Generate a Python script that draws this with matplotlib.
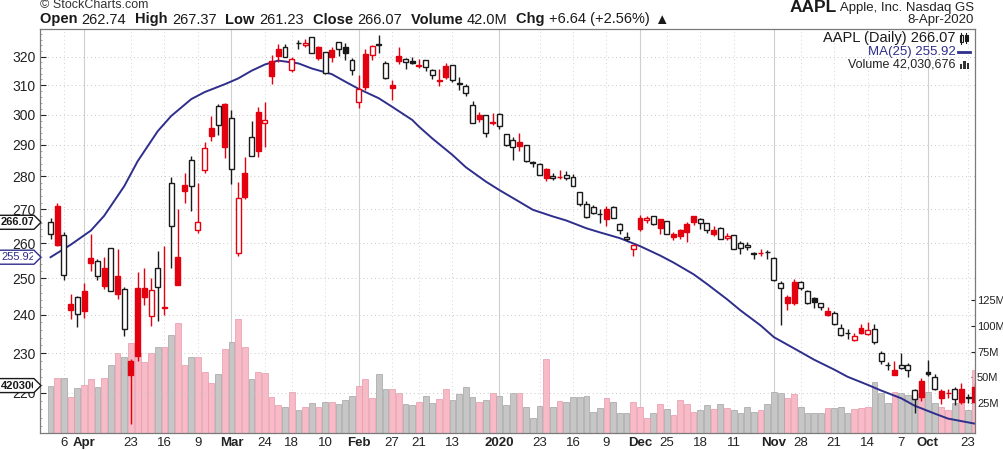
import numpy as np
import matplotlib
matplotlib.use("Agg")
import matplotlib.pyplot as plt
from matplotlib.patches import Polygon, Rectangle
from matplotlib.lines import Line2D
import matplotlib.ticker as mticker

FONT = ['Liberation Sans', 'DejaVu Sans']
plt.rcParams['font.family'] = FONT

W, H = 1004, 450

# ---------------- data (index 0 = 20-Sep-2019 ... 138 = 8-Apr-2020) ----------------
dates = ["2019-09-20", "2019-09-23", "2019-09-24", "2019-09-25", "2019-09-26", "2019-09-27", "2019-09-30",
         "2019-10-01", "2019-10-02", "2019-10-03", "2019-10-04", "2019-10-07", "2019-10-08", "2019-10-09",
         "2019-10-10", "2019-10-11", "2019-10-14", "2019-10-15", "2019-10-16", "2019-10-17", "2019-10-18",
         "2019-10-21", "2019-10-22", "2019-10-23", "2019-10-24", "2019-10-25", "2019-10-28", "2019-10-29",
         "2019-10-30", "2019-10-31", "2019-11-01", "2019-11-04", "2019-11-05", "2019-11-06", "2019-11-07",
         "2019-11-08", "2019-11-11", "2019-11-12", "2019-11-13", "2019-11-14", "2019-11-15", "2019-11-18",
         "2019-11-19", "2019-11-20", "2019-11-21", "2019-11-22", "2019-11-25", "2019-11-26", "2019-11-27",
         "2019-11-29", "2019-12-02", "2019-12-03", "2019-12-04", "2019-12-05", "2019-12-06", "2019-12-09",
         "2019-12-10", "2019-12-11", "2019-12-12", "2019-12-13", "2019-12-16", "2019-12-17", "2019-12-18",
         "2019-12-19", "2019-12-20", "2019-12-23", "2019-12-24", "2019-12-26", "2019-12-27", "2019-12-30",
         "2019-12-31", "2020-01-02", "2020-01-03", "2020-01-06", "2020-01-07", "2020-01-08", "2020-01-09",
         "2020-01-10", "2020-01-13", "2020-01-14", "2020-01-15", "2020-01-16", "2020-01-17", "2020-01-21",
         "2020-01-22", "2020-01-23", "2020-01-24", "2020-01-27", "2020-01-28", "2020-01-29", "2020-01-30",
         "2020-01-31", "2020-02-03", "2020-02-04", "2020-02-05", "2020-02-06", "2020-02-07", "2020-02-10",
         "2020-02-11", "2020-02-12", "2020-02-13", "2020-02-14", "2020-02-18", "2020-02-19", "2020-02-20",
         "2020-02-21", "2020-02-24", "2020-02-25", "2020-02-26", "2020-02-27", "2020-02-28", "2020-03-02",
         "2020-03-03", "2020-03-04", "2020-03-05", "2020-03-06", "2020-03-09", "2020-03-10", "2020-03-11",
         "2020-03-12", "2020-03-13", "2020-03-16", "2020-03-17", "2020-03-18", "2020-03-19", "2020-03-20",
         "2020-03-23", "2020-03-24", "2020-03-25", "2020-03-26", "2020-03-27", "2020-03-30", "2020-03-31",
         "2020-04-01", "2020-04-02", "2020-04-03", "2020-04-06", "2020-04-07", "2020-04-08"]

opens = [221.38, 218.95, 221.03, 218.55, 220.00, 220.54, 220.90,
         225.07, 223.06, 218.43, 225.64, 226.27, 225.82, 227.03, 227.93, 232.95, 234.90, 236.39, 233.37,
         235.09, 234.59, 237.52, 241.16, 242.10, 244.51, 243.16, 247.42, 248.97, 244.76, 247.24,
         249.54, 257.33, 257.05, 256.77, 258.74, 258.69, 258.30, 261.55, 261.13, 263.75, 263.68, 265.80,
         267.90, 265.54, 263.69, 262.59, 262.71, 266.94, 265.58, 266.60,
         267.27, 258.31, 261.07, 263.79, 267.48, 270.00, 268.60, 268.81, 267.78, 271.46, 277.00, 279.57,
         279.80, 279.50, 282.23, 280.53, 284.69, 284.82, 291.12, 289.46, 289.93,
         296.24, 297.15, 293.79, 299.84, 297.16, 307.24, 310.60, 311.64, 316.70, 311.85, 313.59, 316.27,
         317.19, 318.58, 317.92, 320.25, 310.06, 312.48, 324.45, 320.54, 320.93,
         304.30, 315.31, 323.52, 322.57, 322.37, 314.18, 323.60, 321.47, 324.19, 324.74, 315.36, 320.00,
         322.63, 318.62, 297.26, 300.95, 286.53, 281.10, 257.26,
         282.28, 303.67, 296.44, 295.52, 282.00, 263.75, 277.14, 277.39, 255.94, 264.89, 241.95, 247.51,
         239.77, 247.39, 247.18, 228.08, 236.36, 250.75, 246.52, 252.75, 250.74, 255.60,
         246.50, 240.34, 242.80, 250.90, 270.80, 262.74]

highs = [222.56, 219.84, 222.49, 221.50, 220.94, 220.96, 224.58,
         228.22, 223.58, 220.96, 227.49, 229.93, 228.06, 227.79, 230.44, 237.64, 238.13, 237.65, 235.24,
         236.15, 237.58, 240.99, 242.20, 243.24, 244.80, 246.73, 249.25, 249.75, 245.30, 249.17,
         255.93, 257.85, 258.19, 257.49, 260.35, 260.44, 262.47, 262.79, 264.78, 264.88, 265.78, 267.43,
         268.00, 266.08, 264.01, 263.18, 266.44, 267.16, 267.98, 268.00,
         268.25, 259.53, 263.31, 265.89, 271.00, 270.80, 270.07, 271.10, 272.56, 275.30, 280.79, 281.77,
         281.90, 281.18, 282.65, 284.25, 284.89, 289.98, 293.97, 292.69, 293.68,
         300.60, 300.58, 299.96, 300.90, 304.44, 310.43, 312.67, 317.07, 317.57, 315.50, 315.70, 318.74,
         319.02, 319.99, 319.56, 323.33, 311.77, 318.40, 327.85, 324.09, 322.68,
         313.49, 319.64, 324.76, 325.22, 323.40, 321.55, 323.90, 327.22, 326.22, 325.98, 319.75, 324.57,
         324.65, 320.45, 304.18, 302.53, 297.88, 286.00, 278.41,
         301.44, 304.00, 303.40, 299.55, 290.82, 278.09, 286.44, 281.22, 270.00, 279.92, 259.08, 257.61,
         250.00, 252.84, 251.83, 228.50, 247.69, 258.25, 258.68, 255.87, 255.52, 262.49,
         248.72, 245.15, 245.70, 263.11, 271.70, 267.37]

lows = [217.47, 217.65, 217.19, 217.14, 218.83, 217.28, 220.79,
        224.20, 217.93, 215.13, 223.89, 225.84, 224.33, 225.64, 227.30, 232.31, 234.67, 234.88, 233.20,
        233.52, 234.29, 237.32, 239.62, 241.22, 241.81, 242.88, 246.72, 242.57, 241.21, 237.26,
        249.16, 255.38, 256.32, 255.37, 258.11, 256.85, 258.28, 260.92, 261.07, 262.10, 263.01, 264.23,
        265.39, 260.40, 261.18, 260.84, 262.52, 262.50, 265.31, 265.90,
        263.45, 256.29, 260.68, 262.73, 267.30, 264.91, 265.86, 268.50, 267.32, 270.93, 276.98, 278.80,
        279.12, 278.95, 278.56, 280.37, 282.92, 284.70, 288.12, 285.22, 289.52,
        295.19, 296.50, 292.75, 297.48, 297.16, 306.20, 308.25, 311.15, 312.17, 309.55, 312.09, 315.00,
        316.00, 317.31, 315.65, 317.52, 304.88, 312.19, 321.38, 318.75, 308.29,
        302.22, 313.63, 318.95, 320.26, 318.00, 313.85, 318.71, 321.47, 323.35, 322.85, 314.61, 320.00,
        318.21, 310.50, 289.23, 286.13, 286.50, 272.96, 256.37,
        277.72, 285.80, 293.13, 291.41, 281.23, 263.00, 269.37, 271.86, 248.00, 252.95, 240.00, 238.40,
        237.12, 242.61, 228.00, 212.61, 234.30, 244.30, 246.36, 247.05, 249.40, 252.00,
        239.13, 236.90, 238.97, 249.38, 259.00, 261.23]

closes = [217.73, 218.72, 217.68, 221.03, 219.89, 218.82, 223.97,
          224.59, 218.96, 220.82, 227.01, 227.06, 224.40, 227.03, 230.09, 236.21, 235.87, 235.32, 234.37,
          235.28, 236.41, 240.51, 239.96, 243.18, 243.58, 246.58, 249.05, 243.29, 243.26, 248.76,
          255.82, 257.50, 257.13, 257.24, 259.43, 260.14, 262.20, 261.96, 264.47, 262.64, 265.76, 267.10,
          266.29, 263.19, 262.01, 261.78, 266.37, 264.29, 267.84, 267.25,
          264.16, 259.45, 261.74, 265.58, 270.71, 266.92, 268.48, 270.77, 271.46, 275.15, 279.86, 280.41,
          279.74, 280.02, 279.44, 284.00, 284.27, 289.91, 289.80, 291.52, 293.65,
          300.35, 297.43, 299.80, 298.39, 303.19, 309.63, 310.33, 316.96, 312.68, 311.34, 315.24, 318.73,
          316.57, 317.70, 319.23, 318.31, 308.95, 317.69, 324.34, 323.87, 309.51,
          308.66, 318.85, 321.45, 325.21, 320.03, 321.55, 319.61, 327.20, 324.87, 324.95, 319.00, 323.62,
          320.30, 313.05, 298.18, 288.08, 292.65, 273.52, 273.36,
          298.81, 289.32, 302.74, 292.92, 289.03, 266.17, 285.34, 275.43, 248.23, 277.97, 242.21, 252.86,
          246.67, 244.78, 229.24, 224.37, 246.88, 245.52, 258.44, 247.74, 254.81, 254.29,
          240.91, 244.93, 241.41, 262.47, 259.43, 266.07]

volumes_m = [57.2, 18.2, 28.0, 24.7, 18.2, 21.5, 24.7,
             36.1, 34.5, 28.0, 32.8, 34.5, 36.1, 24.7, 34.5, 45.8, 21.5, 19.9, 18.9, 15.6, 21.5,
             19.9, 19.9, 15.0, 15.0, 15.6, 21.5, 33.5, 29.6, 34.5,
             36.1, 24.0, 18.2, 16.6, 21.5, 15.0, 18.2, 19.9, 24.0, 18.9, 23.1, 18.2,
             16.6, 24.0, 28.0, 13.3, 18.9, 24.0, 15.0, 10.1,
             21.5, 26.3, 15.0, 15.0, 26.3, 29.6, 19.9, 16.6, 31.9, 30.6, 30.6, 26.3,
             27.0, 21.5, 67.6, 22.4, 10.1, 21.5, 34.5, 34.5, 23.1,
             31.9, 34.5, 28.0, 25.7, 30.6, 41.0, 33.5, 28.0, 38.4, 28.6, 25.4, 31.9,
             25.7, 23.1, 24.0, 35.2, 38.4, 38.4, 53.3, 29.6, 48.1,
             41.6, 32.2, 28.0, 24.0, 26.3, 25.7, 21.5, 25.4, 21.5, 18.2, 36.1, 21.5,
             23.1, 30.6, 54.0, 55.6, 48.1, 79.3, 106.6,
             84.8, 77.4, 53.3, 44.9, 55.6, 69.6, 69.6, 62.1, 102.7, 91.3, 79.9, 79.9,
             73.4, 65.3, 73.4, 83.2, 69.6, 74.1, 62.1, 49.1, 40.3, 48.1,
             42.6, 39.4, 31.2, 49.1, 49.1, 42.03]

prev_close_first = 220.96   # close of the session before the first bar

# MA(25) at these bar indices
ma_idx = [0, 4, 6, 9, 11, 14, 16, 19, 21, 24, 27, 30, 32, 35, 37, 40, 42, 45, 47, 50, 53, 56, 58,
          61, 63, 66, 68, 71, 73, 76, 78, 81, 83, 84, 87, 89, 92, 94, 96, 99, 101, 104, 106, 108,
          110, 112, 115, 117, 120, 122, 125, 127, 130, 132, 135, 138]
ma_vals = [212.6, 213.8, 215.0, 216.9, 218.7, 220.6, 222.0, 224.0, 225.8, 228.3, 231.2, 234.1, 237.2,
           241.2, 244.2, 248.4, 251.1, 254.4, 256.4, 259.1, 261.4, 263.1, 264.3, 266.6, 267.8, 269.8,
           272.2, 275.8, 278.4, 282.9, 286.8, 292.1, 296.0, 298.2, 302.6, 305.5, 308.7, 311.2, 313.8,
           315.8, 317.6, 318.6, 317.2, 315.0, 312.3, 310.3, 307.6, 305.2, 299.5, 294.5, 284.8, 277.0,
           268.0, 263.6, 259.5, 255.92]

price_ticks = [220, 230, 240, 250, 260, 270, 280, 290, 300, 310, 320]
vol_ticks = [25, 50, 75, 100, 125]
vol_tick_labels = ["25M", "50M", "75M", "100M", "125M"]

xlabel_idx = [1, 7, 11, 16, 21, 26, 30, 36, 41, 46, 50, 55, 60, 65, 71, 78, 83, 87, 92, 97, 102,
              106, 111, 116, 121, 126, 133, 136]
xlabel_txt = ['23', 'Oct', '7', '14', '21', '28', 'Nov', '11', '18', '25', 'Dec', '9', '16', '23',
              '2020', '13', '21', '27', 'Feb', '10', '18', '24', 'Mar', '9', '16', '23', 'Apr', '6']
month_labels = {'Oct', 'Nov', 'Dec', '2020', 'Feb', 'Mar', 'Apr'}

# ---------------- styling ----------------
RED = '#E3000F'
BLACK = '#1A1A1A'
PINK = '#F8BAC6'
PINK_EDGE = '#E49AAA'
GRAY = '#C6C6C6'
GRAY_EDGE = '#A2A2A2'
NAVY = '#2E2E8C'
FRAME = '#7A7A7A'

def fx(px):
    return px / W

def fy(py):
    return 1 - py / H

fig = plt.figure(figsize=(W / 100, H / 100), dpi=100)
fig.patch.set_facecolor('white')

L, R, T, B = 40, 975, 29, 433
rect = [fx(L), fy(B), (R - L) / W, (B - T) / H]
axv = fig.add_axes(rect)
ax = fig.add_axes(rect)
ax.patch.set_visible(False)

n = len(closes)
xs = np.arange(n)
XL = (n - 1) + 1.58
XR = -0.02
for a in (ax, axv):
    a.set_xlim(XL, XR)

# ---- volume ----
VMIN, VMAX = -4.2, 389.6
axv.set_ylim(VMIN, VMAX)
prev = [prev_close_first] + closes[:-1]
vol_face = [PINK if c < p else GRAY for c, p in zip(closes, prev)]
vol_edge = [PINK_EDGE if c < p else GRAY_EDGE for c, p in zip(closes, prev)]
vols = np.array(volumes_m)
axv.bar(xs, vols - VMIN, bottom=VMIN, width=0.86, color=vol_face, edgecolor=vol_edge,
        linewidth=0.5, zorder=2)

# vertical grid
for i, t in zip(xlabel_idx, xlabel_txt):
    if t in month_labels:
        axv.axvline(i, color='#CFCFCF', lw=0.8, zorder=1)
    else:
        axv.axvline(i, color='#D4D4D4', lw=0.7, ls=(0, (1, 3)), zorder=1)

axv.yaxis.tick_right()
axv.set_yticks(vol_ticks)
axv.set_yticklabels(vol_tick_labels)
axv.tick_params(axis='y', direction='in', length=3, pad=1.5, labelsize=8, colors='#222222')
axv.set_xticks(xlabel_idx)
axv.set_xticklabels(xlabel_txt)
axv.tick_params(axis='x', direction='in', length=3, pad=3, labelsize=9.5, colors='#222222')
for lab in axv.get_xticklabels():
    if lab.get_text() in month_labels:
        lab.set_fontweight('bold')
for s in axv.spines.values():
    s.set_visible(False)

# ---- price ----
ax.set_yscale('log')
ax.set_ylim(210.4, 330.0)
ax.yaxis.set_major_locator(mticker.FixedLocator(price_ticks))
ax.yaxis.set_major_formatter(mticker.FixedFormatter([str(v) for v in price_ticks]))
ax.yaxis.set_minor_locator(mticker.FixedLocator(np.arange(212, 330, 2)))
ax.yaxis.set_minor_formatter(mticker.NullFormatter())
ax.tick_params(axis='y', which='major', direction='in', length=4, pad=3, labelsize=10,
               colors='#222222')
ax.tick_params(axis='y', which='minor', direction='in', length=1.5, color='#9A9A9A')
ax.tick_params(axis='x', which='both', bottom=False, labelbottom=False)
for s in ax.spines.values():
    s.set_color(FRAME)
    s.set_linewidth(0.9)

for v in price_ticks:
    ax.axhline(v, color='#C8C8C8', lw=0.7, ls=(0, (1, 3)), zorder=0.5)

# MA line
ax.plot(ma_idx, ma_vals, color=NAVY, lw=1.4, zorder=1.5)

# candles
o = np.array(opens); h = np.array(highs); l = np.array(lows); c = np.array(closes)
p = np.array(prev)
cols = np.where(c >= p, BLACK, RED)
hollow = c >= o
ax.vlines(xs, l, h, colors=cols, lw=1.0, zorder=2)
body_lo = np.minimum(o, c)
body_h = np.maximum(np.abs(c - o), 0.05)
face = [('white' if hw else col) for hw, col in zip(hollow, cols)]
ax.bar(xs, body_h, bottom=body_lo, width=0.74, color=face, edgecolor=cols, linewidth=1.0, zorder=3)

# ---------------- flags on the price axis ----------------
def py_of(a, v):
    return H - a.transData.transform((0, v))[1]

def flag(py, text, edge, tcolor, bold=True, size=8.5):
    hh = 7
    verts = [(-3, py - hh), (34, py - hh), (41, py), (34, py + hh), (-3, py + hh)]
    poly = Polygon([(fx(x), fy(y)) for x, y in verts], closed=True, transform=fig.transFigure,
                   facecolor='white', edgecolor=edge, linewidth=1.0, zorder=5)
    fig.add_artist(poly)
    t = fig.text(fx(1), fy(py), text, ha='left', va='center', fontsize=size,
                 fontweight='bold' if bold else 'normal', color=tcolor, zorder=6)
    clip = Rectangle((fx(-3), fy(py + hh)), fx(36), (2 * hh) / H, transform=fig.transFigure,
                     visible=False)
    fig.add_artist(clip)
    t.set_clip_path(clip)

flag(py_of(ax, closes[-1]), "266.07", BLACK, BLACK, size=8)
flag(py_of(ax, ma_vals[-1]), "255.92", NAVY, NAVY, bold=False, size=8)
flag(py_of(axv, volumes_m[-1]), "42030676", BLACK, BLACK, size=8)

# ---------------- header ----------------
fig.text(fx(40), fy(5.5), "© StockCharts.com", fontsize=9, color='#333333', ha='left', va='center')
fig.text(fx(974), fy(19.5), "8-Apr-2020", fontsize=9.5, color='#222222', ha='right', va='center')

renderer = fig.canvas.get_renderer()

def seq(x0, py, parts, size):
    x = x0
    for s, bold, color, gap in parts:
        t = fig.text(fx(x), fy(py), s, fontsize=size, fontweight='bold' if bold else 'normal',
                     color=color, ha='left', va='center')
        x += t.get_window_extent(renderer).width + gap
    return x

# title right-aligned
tmp1 = fig.text(0, 0, "AAPL", fontsize=12.5, fontweight='bold')
tmp2 = fig.text(0, 0, " Apple, Inc. Nasdaq GS", fontsize=9.5)
w1 = tmp1.get_window_extent(renderer).width
w2 = tmp2.get_window_extent(renderer).width
tmp1.remove(); tmp2.remove()
fig.text(fx(974 - w1 - w2), fy(7), "AAPL", fontsize=12.5, fontweight='bold', color=BLACK,
         ha='left', va='center')
fig.text(fx(974 - w2), fy(7.5), " Apple, Inc. Nasdaq GS", fontsize=9.5, color='#222222',
         ha='left', va='center')

parts = [("Open ", True, BLACK, 0), ("262.74", False, BLACK, 9),
         ("High ", True, BLACK, 0), ("267.37", False, BLACK, 9),
         ("Low ", True, BLACK, 0), ("261.23", False, BLACK, 9),
         ("Close ", True, BLACK, 0), ("266.07", False, BLACK, 9),
         ("Volume ", True, BLACK, 0), ("42.0M", False, BLACK, 9),
         ("Chg ", True, BLACK, 0), ("+6.64 (+2.56%) ", False, BLACK, 0),
         ("▲", False, BLACK, 0)]
seq(40, 19.5, parts, 10.5)

# ---------------- legend (top right inside plot) ----------------
fig.text(fx(956), fy(38), "AAPL (Daily) 266.07", fontsize=10.5, color=BLACK, ha='right', va='center')
fig.text(fx(956), fy(51.5), "MA(25) 255.92", fontsize=9.5, color=NAVY, ha='right', va='center')
fig.text(fx(956), fy(64.5), "Volume 42,030,676", fontsize=9, color='#222222', ha='right', va='center')
# icons
fig.add_artist(Rectangle((fx(960), fy(42)), 3 / W, 7 / H, transform=fig.transFigure,
                         facecolor='white', edgecolor=BLACK, lw=0.8))
fig.add_artist(Line2D([fx(961.5), fx(961.5)], [fy(44), fy(33)], transform=fig.transFigure,
                      color=BLACK, lw=0.8))
fig.add_artist(Rectangle((fx(965), fy(41)), 3 / W, 6 / H, transform=fig.transFigure,
                         facecolor=BLACK, edgecolor=BLACK, lw=0.8))
fig.add_artist(Line2D([fx(966.5), fx(966.5)], [fy(43), fy(33)], transform=fig.transFigure,
                      color=BLACK, lw=0.8))
fig.add_artist(Line2D([fx(958), fx(970)], [fy(51.5), fy(51.5)], transform=fig.transFigure,
                      color=NAVY, lw=2))
for k, hgt in enumerate([5, 8, 6]):
    fig.add_artist(Rectangle((fx(960 + 3.5 * k), fy(69)), 2.5 / W, hgt / H,
                             transform=fig.transFigure, facecolor='#333333', edgecolor='none'))

fig.savefig("out.png", dpi=100)
